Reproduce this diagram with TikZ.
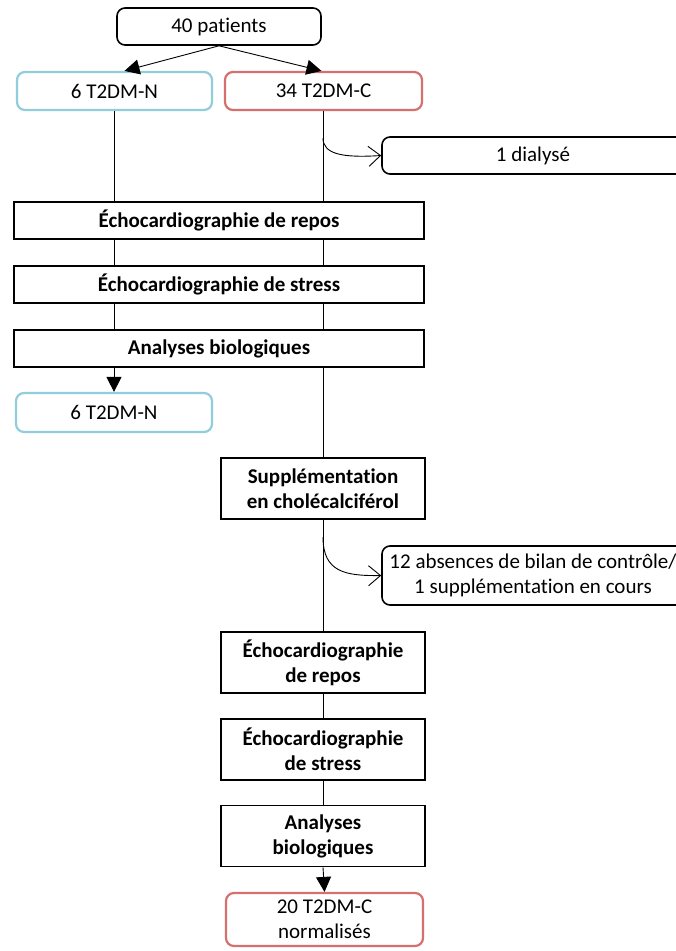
\documentclass[tikz,border=0pt]{standalone}
\usepackage{fontspec}
\setmainfont{Carlito}[Ligatures=NoCommon]
\usetikzlibrary{arrows.meta}
\definecolor{nblue}{HTML}{92CDDC}
\definecolor{cred}{HTML}{D6706E}
\begin{document}
\begin{tikzpicture}[x=1pt,y=-1pt,
 every node/.style={font=\fontsize{21}{25}\selectfont, inner sep=0pt, align=center},
 rbox/.style={draw=black, line width=1.6pt, rounded corners=8pt},
 bluebox/.style={draw=nblue, line width=2.2pt, rounded corners=8pt},
 redbox/.style={draw=cred, line width=2.2pt, rounded corners=8pt},
 sbox/.style={draw=black, line width=1.6pt, font=\fontsize{21}{25}\selectfont\bfseries},
 wide/.style={sbox, minimum width=410pt, minimum height=37pt},
 narrow/.style={sbox, minimum width=204pt, minimum height=61pt},
 conn/.style={line width=0.9pt},
 arr/.style={conn, -{Triangle[length=15pt,width=15pt]}},
 oarr/.style={conn, -{Straight Barb[length=12pt,width=20pt]}}]
\useasboundingbox (0,0) rectangle (676,951);
\clip (0,0) rectangle (676,951);
\fill[white] (0,0) rectangle (676,951);

\node[rbox, minimum width=204pt, minimum height=37pt] (p) at (219,26.5) {40 patients};
\node[bluebox, minimum width=195pt, minimum height=38pt] (n1) at (114.5,91) {6 T2DM-N};
\node[redbox, minimum width=197pt, minimum height=38pt] (c1) at (323.5,91) {34 T2DM-C};
\node[rbox, minimum width=302pt, minimum height=37pt] (d) at (533,155.5) {1 dialysé};
\node[wide] (e1) at (219,220.5) {Échocardiographie de repos};
\node[wide] (s1) at (219,284.5) {Échocardiographie de stress};
\node[wide] (a1) at (219,348.5) {Analyses biologiques};
\node[bluebox, minimum width=196pt, minimum height=39pt] (n2) at (114,412.5) {6 T2DM-N};
\node[narrow] (sup) at (323,488.5) {Supplémentation\\en cholécalciférol};
\node[rbox, minimum width=302pt, minimum height=59pt] (abs) at (533,575.5) {12 absences de bilan de contrôle/\\1 supplémentation en cours};
\node[narrow] (e2) at (323,662.5) {Échocardiographie\\de repos};
\node[narrow] (s2) at (323,749.5) {Échocardiographie\\de stress};
\node[narrow] (a2) at (323,836) {Analyses\\biologiques};
\node[redbox, minimum width=197pt, minimum height=53pt] (c2) at (324.5,919.5) {20 T2DM-C\\normalisés};

% top arrows
\draw[arr] (p.south) -- ([xshift=10pt]n1.north);
\draw[arr] (p.south) -- ([xshift=-2pt]c1.north);

% left column
\draw[conn] (n1.south) -- (e1.north -| n1.south);
\draw[conn] (e1.south -| n1.south) -- (s1.north -| n1.south);
\draw[conn] (s1.south -| n1.south) -- (a1.north -| n1.south);
\draw[arr] (a1.south -| n2.north) -- (n2.north);

% right column
\draw[conn] (c1.south -| sup.north) -- (e1.north -| sup.north);
\draw[conn] (e1.south -| sup.north) -- (s1.north -| sup.north);
\draw[conn] (s1.south -| sup.north) -- (a1.north -| sup.north);
\draw[conn] (a1.south -| sup.north) -- (sup.north);
\draw[conn] (sup.south) -- (e2.north);
\draw[conn] (e2.south) -- (s2.north);
\draw[conn] (s2.south) -- (a2.north);
\draw[arr] (a2.south) -- (c2.north);

% exclusions
\coordinate (k1) at (323,138);
\draw[oarr] (k1) .. controls (323,154) and (342,158) .. (d.west);
\coordinate (k2) at (323,537);
\draw[oarr] (k2) .. controls (323,572) and (345,576) .. (abs.west);
\end{tikzpicture}
\end{document}
